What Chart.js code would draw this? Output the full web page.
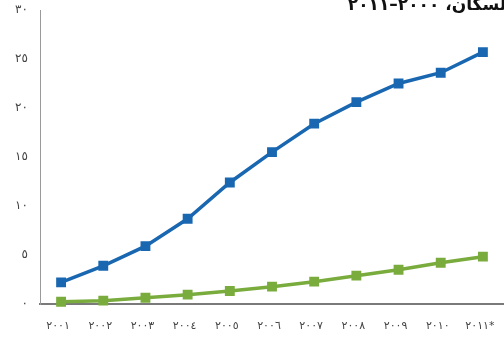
<!DOCTYPE html>
<html>
<head>
<meta charset="utf-8">
<script src="https://cdn.jsdelivr.net/npm/chart.js@4/dist/chart.umd.min.js"></script>
<style>
  html, body { margin: 0; padding: 0; background: #fff; }
  #wrap { width: 504px; height: 338px; position: relative; }
</style>
</head>
<body>
<div id="wrap"><canvas id="c"></canvas></div>
<script>
// Years (2011 is an estimate, marked with *)
const categories = ['٢٠٠١', '٢٠٠٢', '٢٠٠٣', '٢٠٠٤', '٢٠٠٥', '٢٠٠٦', '٢٠٠٧', '٢٠٠٨', '٢٠٠٩', '٢٠١٠', '٢٠١١*'];
// Series values
const blueSeries = [2.2, 3.9, 5.9, 8.7, 12.4, 15.5, 18.4, 20.6, 22.5, 23.6, 25.7];
const greenSeries = [0.23, 0.34, 0.64, 0.95, 1.33, 1.77, 2.28, 2.89, 3.5, 4.21, 4.83];
// Y tick labels in Arabic-Indic digits, indexed by value / 5
const yTickLabels = ['٠', '٥', '١٠', '١٥', '٢٠', '٢٥', '٣٠'];
const titleText = 'السكان، ٢٠٠٠–٢٠١١';

const FONT = '"DejaVu Sans", sans-serif';

const titlePlugin = {
  id: 'cornerTitle',
  afterDraw(chart) {
    const ctx = chart.ctx;
    ctx.save();
    ctx.font = 'bold 17px ' + FONT;
    ctx.fillStyle = '#111';
    ctx.textAlign = 'right';
    ctx.textBaseline = 'alphabetic';
    ctx.direction = 'rtl';
    ctx.fillText(titleText, 512, 10);
    ctx.restore();
  }
};

new Chart(document.getElementById('c'), {
  type: 'line',
  data: {
    labels: categories,
    datasets: [
      {
        data: blueSeries,
        borderColor: '#1a67b1',
        backgroundColor: '#1a67b1',
        borderWidth: 3.5,
        pointStyle: 'rect',
        pointRadius: 4.5,
        pointHoverRadius: 4.5,
        tension: 0,
        clip: false
      },
      {
        data: greenSeries,
        borderColor: '#79ac3d',
        backgroundColor: '#79ac3d',
        borderWidth: 3.5,
        pointStyle: 'rect',
        pointRadius: 4.5,
        pointHoverRadius: 4.5,
        tension: 0,
        clip: false
      }
    ]
  },
  options: {
    responsive: true,
    maintainAspectRatio: false,
    animation: false,
    layout: { autoPadding: false, padding: { top: 10, right: 0, left: 0, bottom: 0 } },
    plugins: { legend: { display: false }, tooltip: { enabled: false } },
    scales: {
      x: {
        offset: true,
        grid: { display: false, drawTicks: false },
        border: { display: true, color: '#7a7a7a', width: 2 },
        ticks: {
          color: '#444',
          font: { family: FONT, size: 11 },
          maxRotation: 0,
          autoSkip: false,
          padding: 16,
          labelOffset: -3
        },
        afterFit(scale) {
          scale.height = 34;
          scale.paddingLeft = 0;
          scale.paddingRight = 0;
        }
      },
      y: {
        min: 0,
        max: 30,
        grid: { display: false, drawTicks: false },
        border: { display: true, color: '#9a9a9a', width: 1 },
        ticks: {
          stepSize: 5,
          color: '#444',
          font: { family: FONT, size: 12 },
          padding: 12,
          callback: (v) => yTickLabels[Math.round(v / 5)]
        },
        afterFit(scale) {
          scale.width = 40;
          scale.paddingTop = 0;
          scale.paddingBottom = 0;
        }
      }
    }
  },
  plugins: [titlePlugin]
});
</script>
</body>
</html>
